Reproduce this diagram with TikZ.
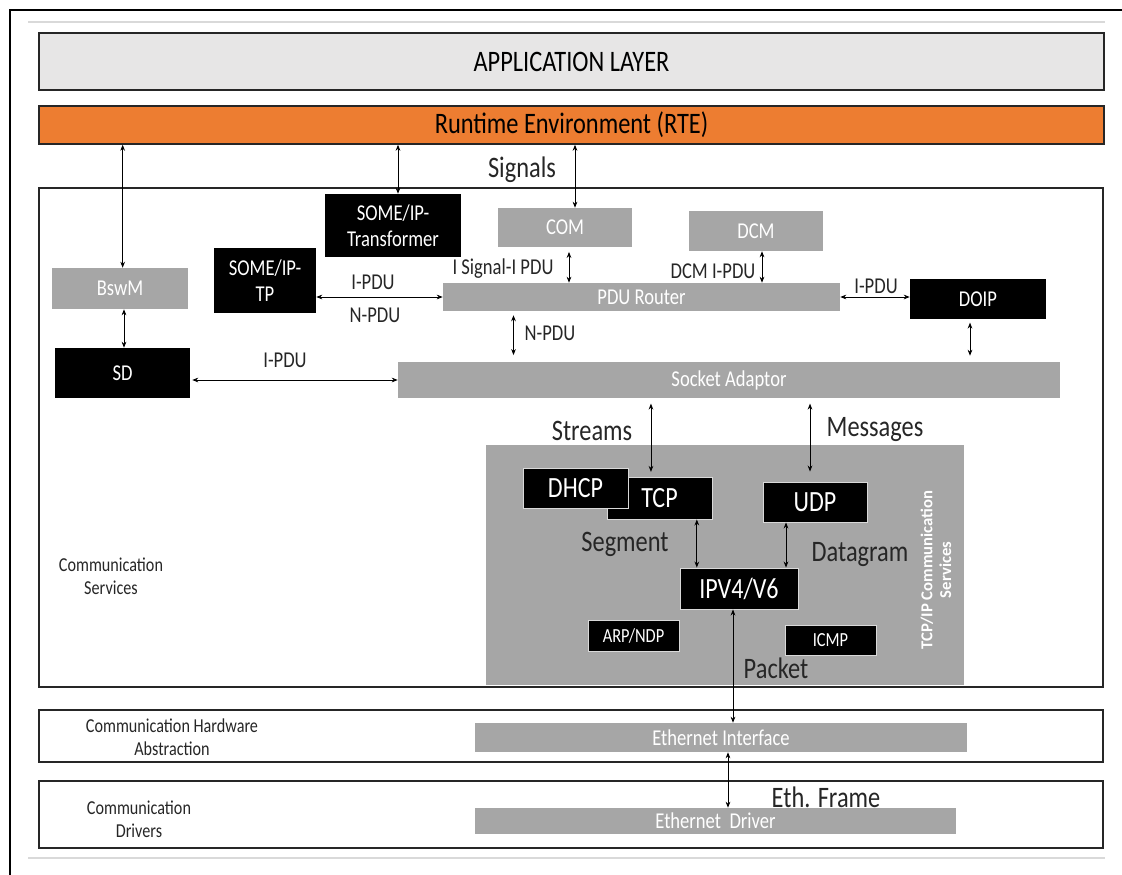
\documentclass[tikz,border=0pt]{standalone}
\usepackage{fontspec}
\setmainfont{Carlito}[FakeStretch=0.82]
\newfontfamily\widefont{Carlito}
\usetikzlibrary{arrows.meta}
\definecolor{boxgray}{HTML}{A6A6A6}
\definecolor{appgray}{HTML}{E7E6E6}
\definecolor{rteorange}{HTML}{ED7D31}
\definecolor{rulegray}{HTML}{D9D9D9}

\begin{document}
\begin{tikzpicture}[x=0.75pt,y=-0.75pt,
  layer/.style={draw=black!85,line width=1.1pt},
  graybox/.style={fill=boxgray,text=white,inner sep=0pt,font=\fontsize{17}{19.5}\selectfont},
  blackbox/.style={fill=black,text=white,inner sep=0pt,align=center,font=\fontsize{17}{19.5}\selectfont},
  netbox/.style={blackbox,draw=white!85!black,line width=0.7pt,font=\fontsize{22}{24}\selectfont},
  smallnet/.style={netbox,font=\fontsize{15}{17}\selectfont},
  arr/.style={{Stealth[length=4.5pt,width=3.5pt]}-{Stealth[length=4.5pt,width=3.5pt]},line width=0.6pt},
  lbl/.style={font=\fontsize{17}{19}\selectfont,inner sep=0pt,text=black!85},
  biglbl/.style={font=\fontsize{22.3}{24}\selectfont,inner sep=0pt,text=black!85},
  side/.style={font=\fontsize{14.8}{17.25}\selectfont,align=center,inner sep=0pt,text=black!85}
]
\useasboundingbox (0,0) rectangle (1122,875);

% page frame and rules
\draw[line width=1.5pt] (10,875) -- (10,10) -- (1122,10);
\draw[rulegray,line width=2.2pt] (28,22) -- (1105,22);
\draw[rulegray,line width=2.2pt] (28,858) -- (1105,858);

% layers
\node[layer,fill=appgray,minimum width=798.75pt,minimum height=42.75pt,inner sep=0pt,
  font=\fontsize{22.3}{24}\selectfont] (app) at (571.5,61.5) {APPLICATION LAYER};
\node[layer,fill=rteorange,minimum width=798.75pt,minimum height=28.5pt,inner sep=0pt,
  font=\fontsize{22.3}{24}\selectfont] (rte) at (571.5,125) {Runtime Environment (RTE)};
\draw[layer] (39,188) rectangle (1103,687);
\draw[layer] (39,710) rectangle (1103,762);
\draw[layer] (39,781) rectangle (1103,848);

\node[side] (lcs) at (111,576) {Communication\\Services};
\node[side] (lhw) at (172,737) {Communication Hardware\\Abstraction};
\node[side] (ldr) at (139,819) {Communication\\Drivers};

% communication services modules
\node[blackbox,minimum width=102pt,minimum height=47.25pt] (xform) at (393,225.5) {SOME/IP-\\Transformer};
\node[graybox,minimum width=100.5pt,minimum height=29.25pt] (com) at (565,227.5) {COM};
\node[graybox,minimum width=100.5pt,minimum height=30pt] (dcm) at (756,231) {DCM};
\node[graybox,minimum width=102pt,minimum height=30.75pt] (bswm) at (120,288.5) {BswM};
\node[blackbox,minimum width=76.5pt,minimum height=48.75pt] (tp) at (265,280.5) {SOME/IP-\\TP};
\node[graybox,minimum width=297.75pt,minimum height=21pt] (pdur) at (641.5,297) {PDU Router};
\node[blackbox,minimum width=102pt,minimum height=30pt] (doip) at (978,299) {DOIP};
\node[blackbox,minimum width=101.25pt,minimum height=37.5pt] (sd) at (122.5,373) {SD};
\node[graybox,minimum width=496.5pt,minimum height=27pt] (sock) at (729,380) {Socket Adaptor};

% TCP/IP stack
\node[fill=boxgray,minimum width=358.5pt,minimum height=180pt,inner sep=0pt] (tcpip) at (725,565) {};
\node[rotate=90,text=white,font=\widefont\bfseries\fontsize{12.5}{14}\selectfont,align=center,inner sep=0pt]
  (tcpiplbl) at (936,570) {TCP/IP Communication\\Services};
\node[netbox,minimum width=78.75pt,minimum height=31.5pt] (tcp) at (659.5,498) {TCP};
\node[netbox,minimum width=78.75pt,minimum height=30pt] (dhcp) at (575.5,488) {DHCP};
\node[netbox,minimum width=78pt,minimum height=30pt] (udp) at (815,502) {UDP};
\node[netbox,minimum width=88.5pt,minimum height=30.75pt] (ip) at (739,588.5) {IPV4/V6};
\node[smallnet,minimum width=68.25pt,minimum height=23.25pt] (arp) at (633.5,635.5) {ARP/NDP};
\node[smallnet,minimum width=68.25pt,minimum height=22.5pt] (icmp) at (830.5,640) {ICMP};

% hardware abstraction and drivers
\node[graybox,minimum width=369pt,minimum height=21.75pt] (ethif) at (721,737.5) {Ethernet Interface};
\node[graybox,minimum width=360.75pt,minimum height=19.5pt] (ethdrv) at (715.5,821) {Ethernet\ \ Driver};

% connectors
\draw[arr] ([xshift=2pt]bswm.north |- rte.south) -- ([xshift=2pt]bswm.north);
\draw[arr] ([xshift=3.75pt]xform.north |- rte.south) -- ([xshift=3.75pt]xform.north);
\draw[arr] ([xshift=7.5pt]com.north |- rte.south) -- ([xshift=7.5pt]com.north);
\draw[arr,shorten <=3.5pt] ([xshift=3pt]com.south) -- ([xshift=3pt]com.south |- pdur.north);
\draw[arr] ([xshift=4.5pt]dcm.south) -- ([xshift=4.5pt]dcm.south |- pdur.north);
\draw[arr] (tp.east |- pdur.west) -- (pdur.west);
\draw[arr] (pdur.east) -- (doip.west |- pdur.east);
\draw[arr,shorten <=3pt,shorten >=5pt] ([xshift=-96pt]pdur.south) -- ([xshift=-96pt]pdur.south |- sock.north);
\draw[arr,shorten <=2.5pt,shorten >=4.5pt] ([xshift=-6pt]doip.south) -- ([xshift=-6pt]doip.south |- sock.north);
\draw[arr] ([xshift=3pt]bswm.south) -- ([xshift=3pt]bswm.south |- sd.north);
\draw[arr,shorten <=1.5pt] (sd.east |- sock.west) -- (sock.west);
\draw[arr,shorten <=4pt,shorten >=3.5pt] ([xshift=-6.4pt]tcp.north |- sock.south) -- ([xshift=-6.4pt]tcp.north);
\draw[arr,shorten <=4pt,shorten >=7.5pt] ([xshift=-3.75pt]udp.north |- sock.south) -- ([xshift=-3.75pt]udp.north);
\draw[arr] ([xshift=28pt]tcp.south) -- ([xshift=28pt]tcp.south |- ip.north);
\draw[arr] ([xshift=-21.75pt]udp.south) -- ([xshift=-21.75pt]udp.south |- ip.north);
\draw[arr] ([xshift=-4.5pt]ip.south) -- ([xshift=-4.5pt]ip.south |- ethif.north);
\draw[arr] ([xshift=5.25pt]ethif.south) -- ([xshift=5.25pt]ethif.south |- ethdrv.north);

% connector labels
\node[biglbl] (tsig) at (522,170) {Signals};
\node[lbl] (t1) at (373,282) {I-PDU};
\node[lbl] (t2) at (375,315) {N-PDU};
\node[lbl] (t3) at (285,360) {I-PDU};
\node[lbl] (t4) at (503,269) {I Signal-I PDU};
\node[lbl] (t5) at (713,271) {DCM I-PDU};
\node[lbl] (t6) at (550,333) {N-PDU};
\node[lbl] (t7) at (876,286) {I-PDU};
\node[biglbl] (t8) at (592,431) {Streams};
\node[biglbl] (t9) at (875,430) {Messages};
\node[biglbl] (t10) at (625,544) {Segment};
\node[biglbl] (t11) at (860,555) {Datagram};
\node[biglbl] (t12) at (776,668) {Packet};
\node[biglbl] (t13) at (826,797) {Eth. Frame};
\end{tikzpicture}
\end{document}
